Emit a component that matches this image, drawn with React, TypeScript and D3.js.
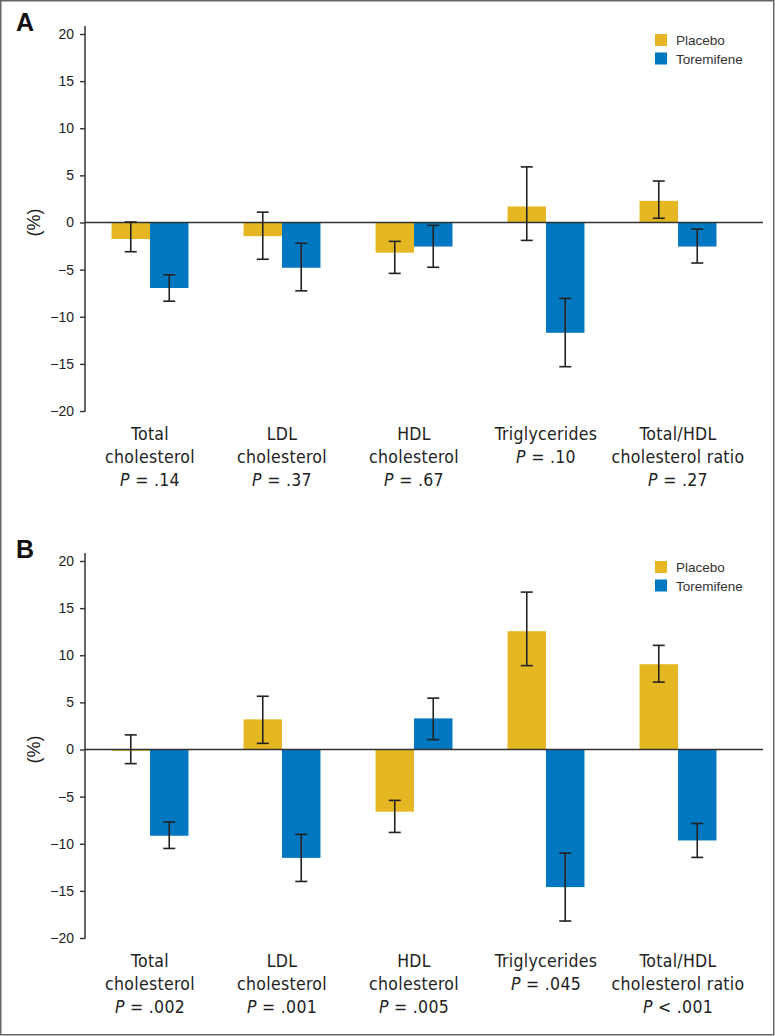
import React, { useEffect, useRef } from "react";
import * as d3 from "d3";

// categories and their label lines
const categories = ["Total", "LDL", "HDL", "Triglycerides", "Ratio"];
const labelLines = [
  ["Total", "cholesterol"],
  ["LDL", "cholesterol"],
  ["HDL", "cholesterol"],
  ["Triglycerides"],
  ["Total/HDL", "cholesterol ratio"],
];
const series = ["Placebo", "Toremifene"];
const yTicks = [-20, -15, -10, -5, 0, 5, 10, 15, 20];

// Panel A
const placeboA = [-1.75, -1.45, -3.2, 1.7, 2.3];
const placeboALow = [-3.1, -3.9, -5.4, -1.9, 0.45];
const placeboAHigh = [0.05, 1.1, -2.0, 5.9, 4.4];
const toremifeneA = [-6.95, -4.8, -2.55, -11.7, -2.55];
const toremifeneALow = [-8.35, -7.25, -4.75, -15.3, -4.3];
const toremifeneAHigh = [-5.55, -2.2, -0.3, -8.05, -0.7];
const pValuesA = ["= .14", "= .37", "= .67", "= .10", "= .27"];

// Panel B
const placeboB = [-0.15, 3.2, -6.6, 12.55, 9.05];
const placeboBLow = [-1.5, 0.65, -8.8, 8.9, 7.15];
const placeboBHigh = [1.55, 5.65, -5.4, 16.7, 11.05];
const toremifeneB = [-9.15, -11.5, 3.3, -14.6, -9.65];
const toremifeneBLow = [-10.5, -14.0, 1.05, -18.2, -11.45];
const toremifeneBHigh = [-7.7, -9.0, 5.45, -11.0, -7.85];
const pValuesB = ["= .002", "= .001", "= .005", "= .045", "< .001"];

const COLORS = { Placebo: "#E5B823", Toremifene: "#0077C1" };
const SANS = "'Liberation Sans', Arial, Helvetica, sans-serif";
const NARROW = "'DejaVu Sans Condensed', 'Liberation Sans', sans-serif";

const panels = [
  {
    letter: "A",
    top: 0,
    placebo: placeboA,
    placeboLow: placeboALow,
    placeboHigh: placeboAHigh,
    tor: toremifeneA,
    torLow: toremifeneALow,
    torHigh: toremifeneAHigh,
    pvals: pValuesA,
  },
  {
    letter: "B",
    top: 527,
    placebo: placeboB,
    placeboLow: placeboBLow,
    placeboHigh: placeboBHigh,
    tor: toremifeneB,
    torLow: toremifeneBLow,
    torHigh: toremifeneBHigh,
    pvals: pValuesB,
  },
];

const App = () => {
  const svgRef = useRef<SVGSVGElement>(null);

  useEffect(() => {
    const svg = d3.select(svgRef.current);
    svg.selectAll("*").remove();

    // frame
    svg
      .append("rect")
      .attr("x", 0.75)
      .attr("y", 0.75)
      .attr("width", 773)
      .attr("height", 1034)
      .attr("fill", "white")
      .attr("stroke", "#666")
      .attr("stroke-width", 1.5);

    const xScale = d3
      .scaleBand()
      .domain(categories)
      .range([84, 744])
      .paddingInner(0.417)
      .paddingOuter(0.2085);

    const xInner = d3
      .scaleBand()
      .domain(series)
      .range([0, xScale.bandwidth()]);

    panels.forEach((p) => {
      const g = svg.append("g").attr("transform", `translate(0,${p.top})`);

      const yScale = d3.scaleLinear().domain([-20, 20]).range([411, 34]);

      // panel letter
      g.append("text")
        .attr("x", 16)
        .attr("y", 31)
        .attr("font-family", SANS)
        .attr("font-weight", "bold")
        .attr("font-size", 25)
        .attr("fill", "#111")
        .text(p.letter);

      // y label
      g.append("text")
        .attr("transform", `translate(40,${yScale(0)}) rotate(-90)`)
        .attr("text-anchor", "middle")
        .attr("font-family", SANS)
        .attr("font-size", 18)
        .attr("fill", "#222")
        .text("(%)");

      // y axis
      const axis = g
        .append("g")
        .attr("transform", "translate(85,0)")
        .call(d3.axisLeft(yScale).tickValues(yTicks).tickSize(5).tickPadding(6));
      axis.select(".domain").remove();
      axis.selectAll(".tick line").attr("stroke", "#333").attr("stroke-width", 1.4);
      axis
        .selectAll(".tick text")
        .attr("font-family", SANS)
        .attr("font-size", 14)
        .attr("fill", "#222");
      g.append("line")
        .attr("x1", 85)
        .attr("x2", 85)
        .attr("y1", yScale(20) - 8)
        .attr("y2", yScale(-20) + 0.7)
        .attr("stroke", "#333")
        .attr("stroke-width", 1.5);

      // bars
      const rows = categories.map((c, i) => [
        { cat: c, key: "Placebo", v: p.placebo[i], lo: p.placeboLow[i], hi: p.placeboHigh[i] },
        { cat: c, key: "Toremifene", v: p.tor[i], lo: p.torLow[i], hi: p.torHigh[i] },
      ]);
      const flat = rows.flat();

      g.selectAll(".bar")
        .data(flat)
        .join("rect")
        .attr("class", "bar")
        .attr("x", (d) => xScale(d.cat)! + xInner(d.key)!)
        .attr("width", xInner.bandwidth())
        .attr("y", (d) => yScale(Math.max(0, d.v)))
        .attr("height", (d) => Math.abs(yScale(d.v) - yScale(0)))
        .attr("fill", (d) => COLORS[d.key as keyof typeof COLORS]);

      // zero line
      g.append("line")
        .attr("x1", 85)
        .attr("x2", 763)
        .attr("y1", yScale(0))
        .attr("y2", yScale(0))
        .attr("stroke", "#333")
        .attr("stroke-width", 1.5);

      // error bars
      const err = g
        .selectAll(".err")
        .data(flat)
        .join("g")
        .attr("class", "err")
        .attr("stroke", "#222")
        .attr("stroke-width", 1.6)
        .attr(
          "transform",
          (d) => `translate(${xScale(d.cat)! + xInner(d.key)! + xInner.bandwidth() / 2},0)`
        );
      err.append("line").attr("y1", (d) => yScale(d.hi)).attr("y2", (d) => yScale(d.lo));
      err
        .append("line")
        .attr("x1", -6)
        .attr("x2", 6)
        .attr("y1", (d) => yScale(d.hi))
        .attr("y2", (d) => yScale(d.hi));
      err
        .append("line")
        .attr("x1", -6)
        .attr("x2", 6)
        .attr("y1", (d) => yScale(d.lo))
        .attr("y2", (d) => yScale(d.lo));

      // category labels
      const lab = g
        .selectAll(".cat")
        .data(categories)
        .join("text")
        .attr("class", "cat")
        .attr("text-anchor", "middle")
        .attr("font-family", NARROW)
        .attr("font-size", 17.5)
        .attr("letter-spacing", 0.3)
        .attr("fill", "#222")
        .attr("transform", (d) => `translate(${xScale(d)! + xScale.bandwidth() / 2},440)`);
      lab.each(function (d, i) {
        const t = d3.select(this);
        labelLines[i].forEach((line, j) => {
          t.append("tspan").attr("x", 0).attr("y", j * 23).text(line);
        });
        const pl = t.append("tspan").attr("x", 0).attr("y", labelLines[i].length * 23);
        pl.append("tspan").attr("font-style", "italic").text("P");
        pl.append("tspan").text(" " + p.pvals[i]);
      });

      // legend
      const leg = g
        .selectAll(".leg")
        .data(series)
        .join("g")
        .attr("class", "leg")
        .attr("transform", (d, i) => `translate(655,${34 + i * 18.5})`);
      leg
        .append("rect")
        .attr("width", 12)
        .attr("height", 12)
        .attr("fill", (d) => COLORS[d as keyof typeof COLORS]);
      leg
        .append("text")
        .attr("x", 21)
        .attr("y", 11)
        .attr("font-family", SANS)
        .attr("font-size", 13.5)
        .attr("fill", "#333")
        .text((d) => d);
    });
  }, []);

  return (
    <svg
      ref={svgRef}
      width={775}
      height={1036}
      style={{ position: "absolute", left: 0, top: 0 }}
    ></svg>
  );
};

export default App;
